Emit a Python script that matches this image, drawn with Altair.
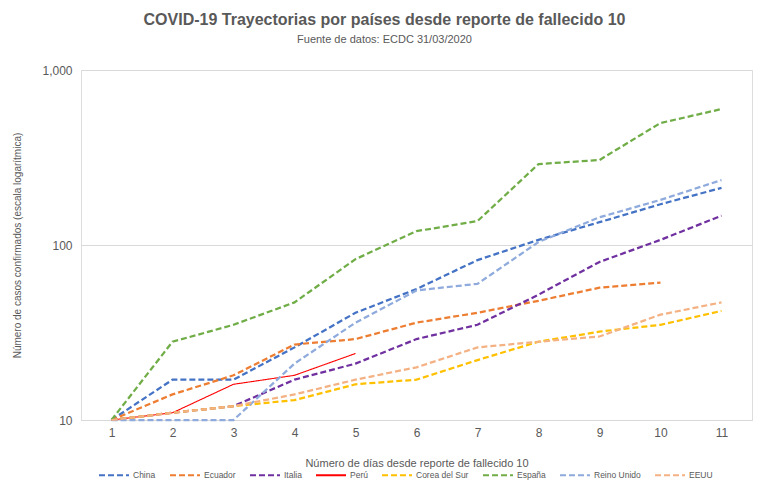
import altair as alt
import pandas as pd

days = list(range(1, 12))
series_names = ["China", "Ecuador", "Italia", "Perú", "Corea del Sur", "España", "Reino Unido", "EEUU"]
colors = ["#4472C4", "#ED7D31", "#7030A0", "#FF0000", "#FFC000", "#70AD47", "#8FAADC", "#F4B183"]

china = [10, 17, 17, 26, 41, 56, 82, 107, 135, 171, 212]
ecuador = [10, 14, 18, 27, 29, 36, 41, 48, 57, 61]
italia = [10, 11, 12, 17, 21, 29, 35, 52, 80, 107, 147]
peru = [10, 11, 16, 18, 24]
corea = [10, 11, 12, 13, 16, 17, 22, 28, 32, 35, 42]
espana = [10, 28, 35, 47, 83, 120, 137, 290, 306, 498, 598]
reino_unido = [10, 10, 10, 21, 36, 55, 60, 104, 144, 181, 235]
eeuu = [10, 11, 12, 14, 17, 20, 26, 28, 30, 40, 47]

all_vals = [china, ecuador, italia, peru, corea, espana, reino_unido, eeuu]
rows = []
for name, vals in zip(series_names, all_vals):
    for d, v in zip(days, vals):
        rows.append({"dia": d, "casos": v, "pais": name})
df = pd.DataFrame(rows)

dashes = [[6, 3] if n != "Perú" else [1, 0] for n in series_names]

font = "Liberation Sans"
grey = "#595959"

legend_cfg = dict(title=None, orient="none", legendX=17, legendY=389,
                  direction="horizontal", columns=8,
                  symbolType="stroke", symbolSize=900, symbolStrokeWidth=2,
                  labelFontSize=8.5, labelColor=grey, labelFont=font,
                  columnPadding=10, labelOffset=3)

chart = alt.Chart(df).mark_line(strokeCap="butt").encode(
    x=alt.X("dia:Q",
            scale=alt.Scale(domain=[0.5, 11.5], nice=False, zero=False),
            axis=alt.Axis(values=days, format="d", grid=False, ticks=False,
                          domainColor="#d9d9d9", labelFontSize=12, labelColor=grey,
                          labelPadding=7, title="Número de días desde reporte de fallecido 10",
                          titleFontSize=11, titleFontWeight="normal", titleColor=grey,
                          titlePadding=19, labelFont=font, titleFont=font)),
    y=alt.Y("casos:Q",
            scale=alt.Scale(type="log", domain=[10, 1000], nice=False),
            axis=alt.Axis(values=[10, 100, 1000], format=",", grid=True, gridColor="#d9d9d9",
                          ticks=False, domain=False, labelFontSize=12, labelColor=grey,
                          labelPadding=9, title="Número de casos confirmados (escala logarítmica)",
                          titleFontSize=10, titleFontWeight="normal", titleColor=grey,
                          titlePadding=19, labelFont=font, titleFont=font)),
    color=alt.Color("pais:N", scale=alt.Scale(domain=series_names, range=colors),
                    legend=alt.Legend(**legend_cfg)),
    strokeDash=alt.StrokeDash("pais:N", scale=alt.Scale(domain=series_names, range=dashes),
                              legend=alt.Legend(**legend_cfg)),
    strokeWidth=alt.condition(alt.datum.pais == "Perú", alt.value(1.1), alt.value(2.25)),
    order=alt.Order("dia:Q"),
).properties(
    width=671,
    height=350,
    title=alt.TitleParams(
        text="COVID-19 Trayectorias por países desde reporte de fallecido 10",
        subtitle="Fuente de datos: ECDC  31/03/2020",
        fontSize=16, fontWeight="bold", color=grey, font=font,
        subtitleFontSize=11, subtitleColor=grey, subtitleFont=font, subtitlePadding=6,
        anchor="middle", dx=-32, offset=19,
    ),
    autosize=alt.AutoSizeParams(type="none"),
    padding={"left": 81, "top": 70, "right": 16, "bottom": 78},
).configure_view(stroke=None).configure(background="white")

chart.save("out.html", embed_options={"renderer": "svg", "actions": False})
